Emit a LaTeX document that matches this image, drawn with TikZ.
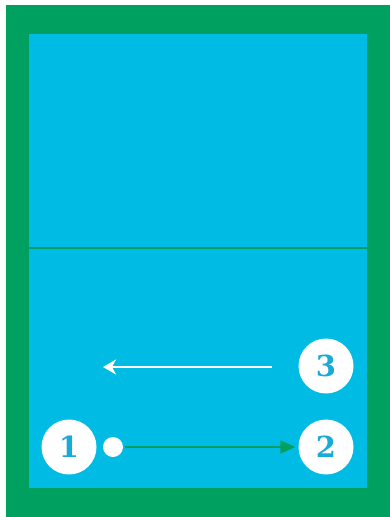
\documentclass[tikz,border=0pt]{standalone}
\usepackage{fontspec}
\newfontfamily\numfont{DejaVu Serif}
\usetikzlibrary{arrows.meta}
\definecolor{fieldgreen}{HTML}{00A060}
\definecolor{courtblue}{HTML}{00BCE4}
\definecolor{numblue}{HTML}{1AAAD8}
\tikzset{
  player/.style={circle, fill=white, minimum size=55pt, inner sep=0pt, text=numblue, font=\numfont\bfseries\fontsize{29}{29}\selectfont},
  ball/.style={circle, fill=white, minimum size=20pt, inner sep=0pt},
}
\begin{document}
\begin{tikzpicture}[x=1pt,y=-1pt]
\useasboundingbox (0,0) rectangle (390,517);
\fill[white] (0,0) rectangle (390,517);
\fill[fieldgreen] (6,5) rectangle (390,517);
\fill[courtblue] (29,34) rectangle (367,488);
\draw[fieldgreen, line width=2pt] (29,247.5) -- (367,247.5);
\node[player] (p1) at (69,447) {1};
\node[player] (p2) at (326,447) {2};
\node[player] (p3) at (326,366) {3};
\node[ball] (b) at (113,447) {};
\coordinate (w1) at (272,367);
\coordinate (w2) at (103,367);
\draw[fieldgreen, line width=1.8pt, -{Triangle[length=15pt,width=13pt]}, shorten >=3pt] (b.east) ++(2,0) -- (p2.west);
\draw[white, line width=1.8pt, -{Stealth[length=13pt,width=15pt,inset=4pt]}] (w1) -- (w2);
\end{tikzpicture}
\end{document}
